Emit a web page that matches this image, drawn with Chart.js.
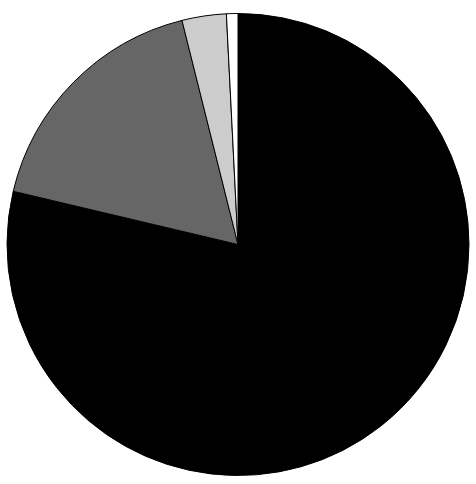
<!DOCTYPE html>
<html>
<head>
<meta charset="utf-8">
<script src="https://cdn.jsdelivr.net/npm/chart.js@4"></script>
<style>
html,body{margin:0;padding:0;background:#fff;}
#wrap{width:476px;height:484px;position:relative;}
</style>
</head>
<body>
<div id="wrap"><canvas id="c"></canvas></div>
<script>
const categories = ["A", "B", "C", "D"];
const values = [78.7, 17.4, 3.1, 0.8];
const colors = ["#000000", "#666666", "#cccccc", "#ffffff"];

new Chart(document.getElementById('c'), {
  type: 'pie',
  data: {
    labels: categories,
    datasets: [{
      data: values,
      backgroundColor: colors,
      borderColor: '#000000',
      borderWidth: 1
    }]
  },
  options: {
    responsive: true,
    maintainAspectRatio: false,
    animation: false,
    layout: { padding: { left: 6, right: 6, top: 13, bottom: 8 } },
    plugins: { legend: { display: false }, tooltip: { enabled: false } }
  }
});
</script>
</body>
</html>
